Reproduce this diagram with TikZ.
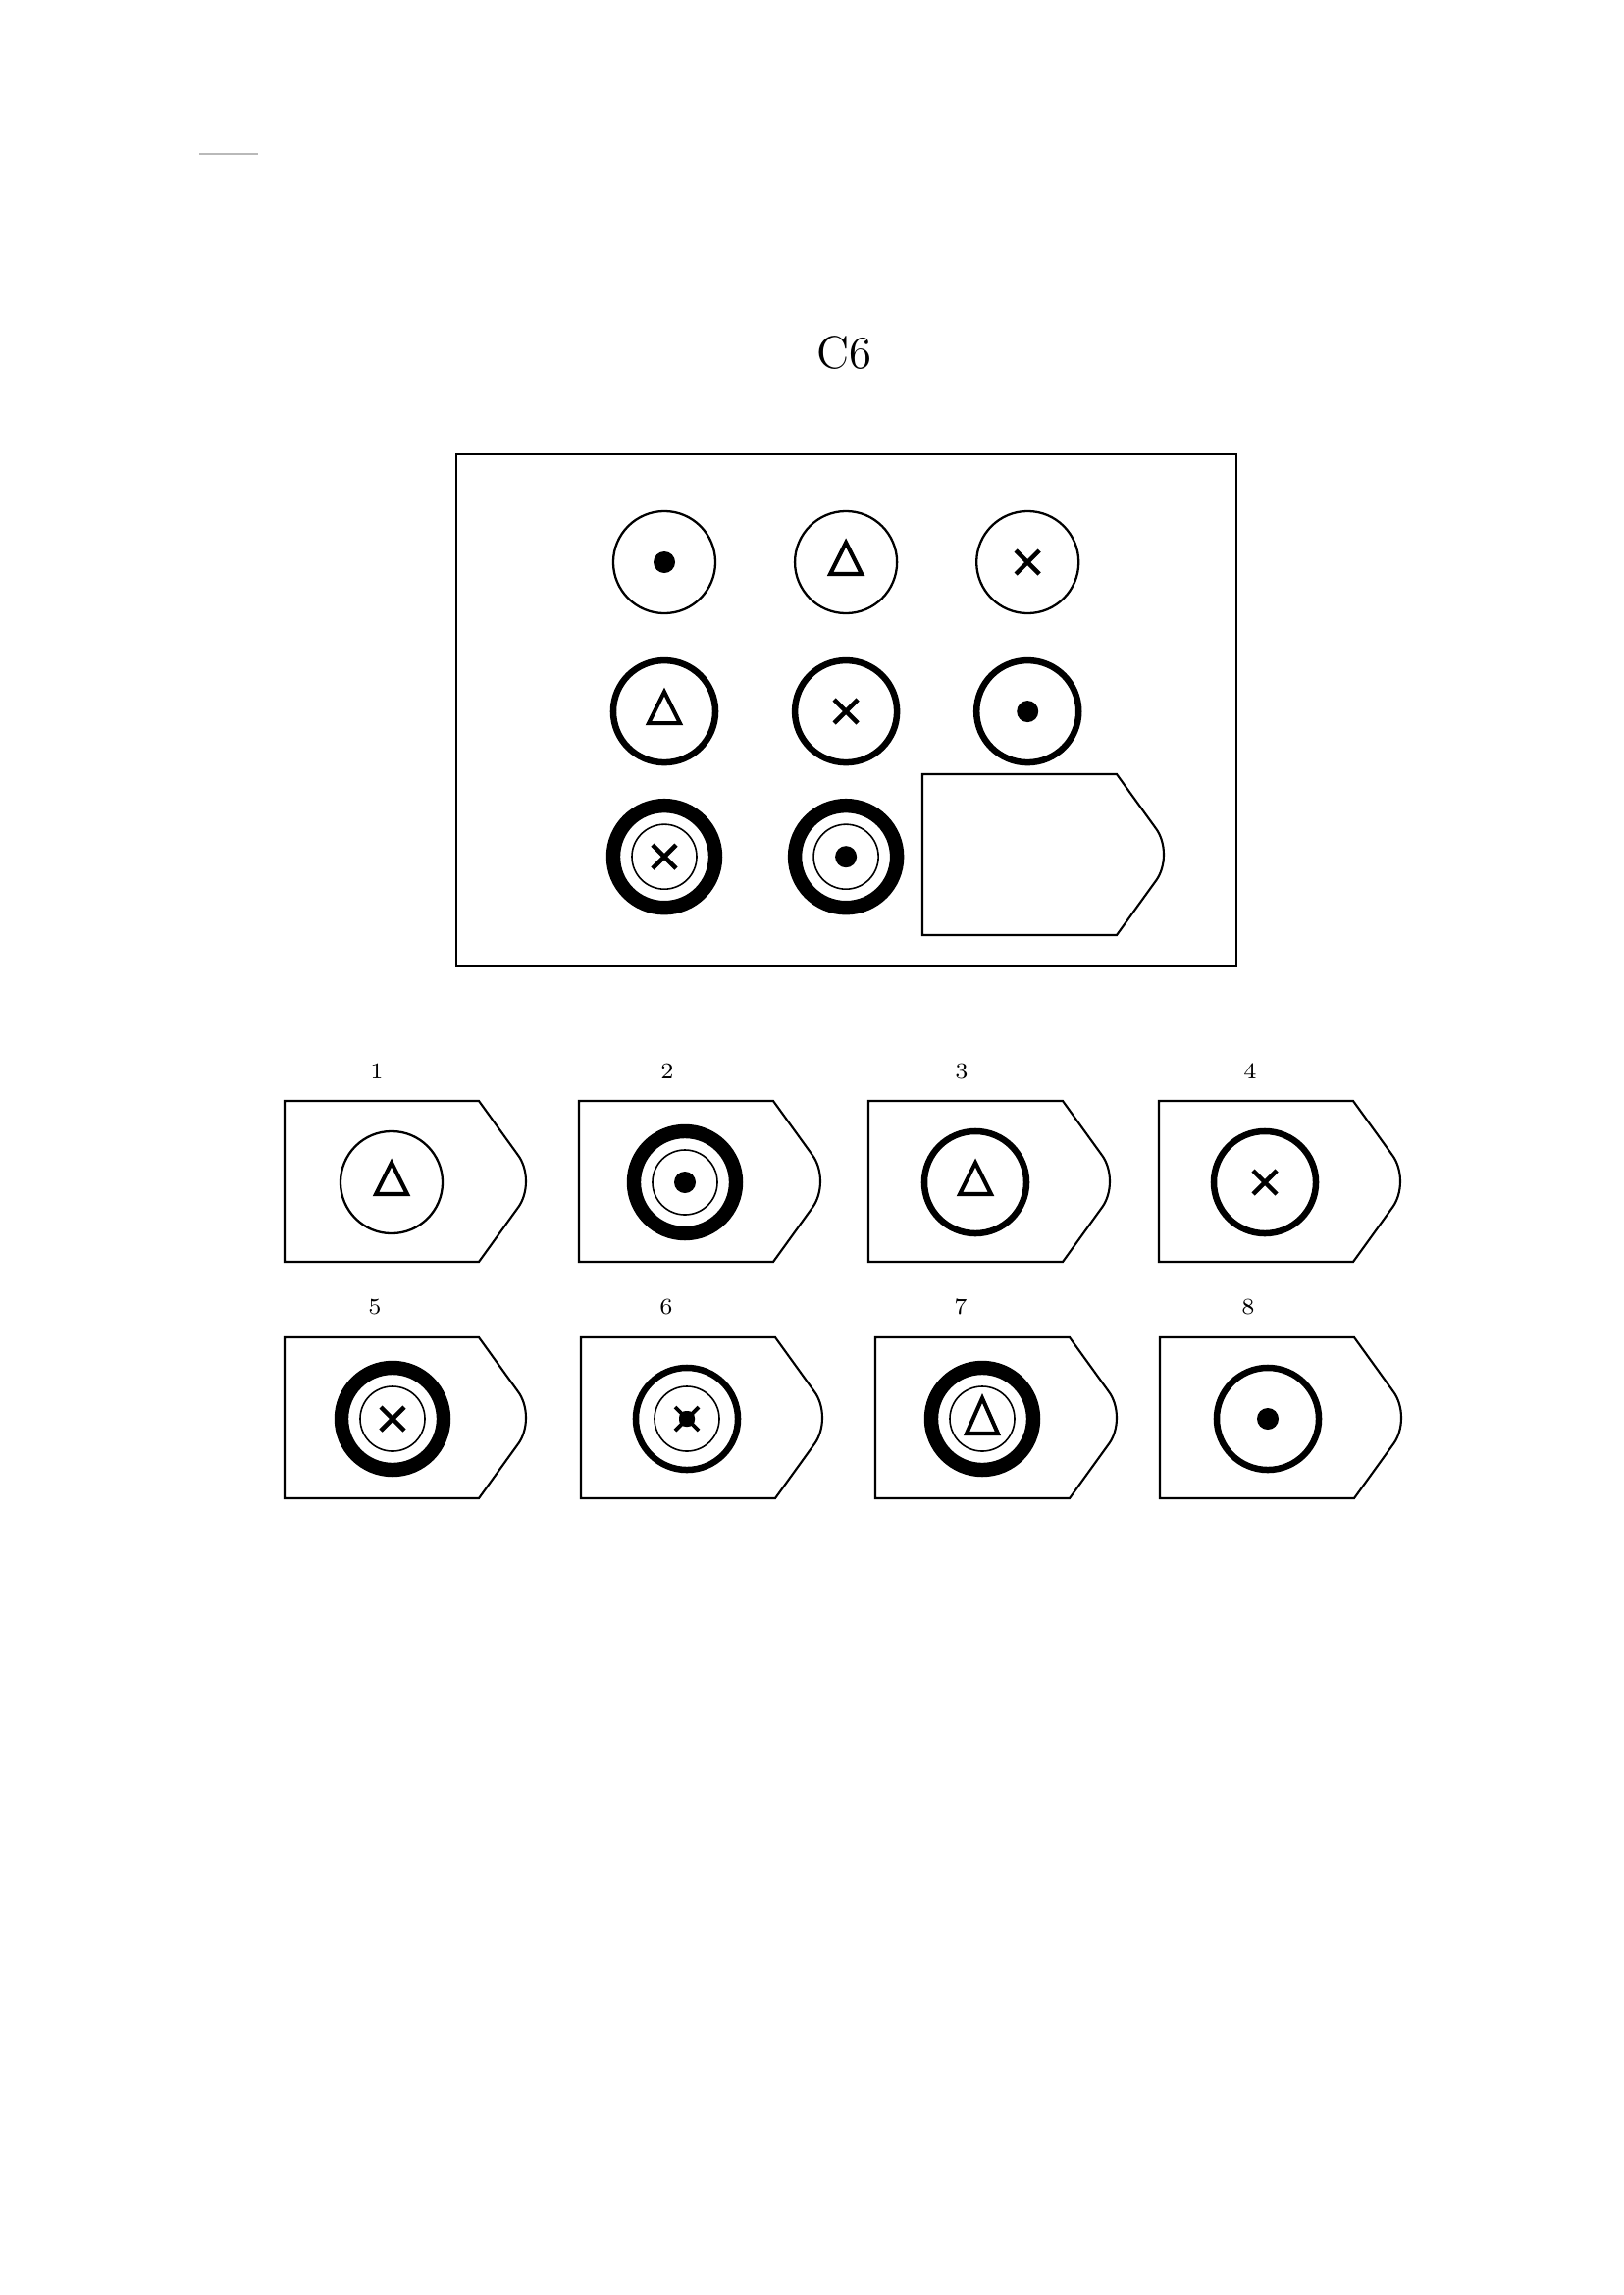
\documentclass[tikz,border=0pt]{standalone}
\begin{document}
\begin{tikzpicture}[x=0.01cm,y=-0.01cm,node distance=1.85cm,
  cell/.style={circle,draw,inner sep=0pt,minimum size=1.04cm},
  ring1/.style={cell,line width=0.65pt},
  ring2/.style={cell,line width=1.85pt},
  ring3/.style={cell,line width=4.1pt},
  core/.style={circle,draw,inner sep=0pt,minimum size=0.66cm,line width=0.45pt},
  num/.style={font=\fontsize{6.6}{8}\selectfont},
  pics/dotmark/.style={code={\fill (0,0) circle[radius=11];}},
  pics/trimark/.style={code={\draw[line width=1.15pt,line join=miter] (0,-20) -- (16,12) -- (-16,12) -- cycle;}},
  pics/bigtri/.style={code={\draw[line width=1.15pt,line join=miter] (0,-21) -- (16,15) -- (-16,15) -- cycle;}},
  pics/crossmark/.style={code={\draw[line width=1.3pt] (-12,-12) -- (12,12) (-12,12) -- (12,-12);}},
  pics/dotcross/.style={code={\fill[rounded corners=2] (-8,-8) rectangle (8,8);
      \draw[line width=1.1pt] (-12,-12) -- (12,12) (-12,12) -- (12,-12);}},
  pics/card/.style={code={\draw[line width=0.6pt] (0,0) -- (198,0) -- (237,54)
      .. controls (249,69) and (249,95) .. (237,110) -- (198,164) -- (0,164) -- cycle;}}]

\useasboundingbox (0,0) rectangle (1654,2339);
\draw[gray!55,line width=0.5pt] (203,157) -- (263,157);

\node[font=\fontsize{13.3}{16}\selectfont] (title) at (860,360) {C6};
\draw[line width=0.6pt] (465,463) rectangle (1260,985);

% the matrix
\node[ring1] (m11) at (677,573)                        {};
\node[ring1] (m12) [right of=m11]                       {};
\node[ring1] (m13) [right of=m12]                       {};
\node[ring2] (m21) [below of=m11,node distance=1.52cm]  {};
\node[ring2] (m22) [right of=m21]                       {};
\node[ring2] (m23) [right of=m22]                       {};
\node[ring3] (m31) [below of=m21,node distance=1.48cm]  {};
\node[ring3] (m32) [right of=m31]                       {};
\node[core]  (m31c) at (m31) {};
\node[core]  (m32c) at (m32) {};
\coordinate  (gap) at (940,789);

\pic at (m11) {dotmark};
\pic at (m12) {trimark};
\pic at (m13) {crossmark};
\pic at (m21) {trimark};
\pic at (m22) {crossmark};
\pic at (m23) {dotmark};
\pic at (m31) {crossmark};
\pic at (m32) {dotmark};
\pic at (gap) {card};

% the answers
\coordinate (c1) at (290,1122);
\coordinate (c2) at (590,1122);
\coordinate (c3) at (885,1122);
\coordinate (c4) at (1181,1122);
\coordinate (c5) at (290,1363);
\coordinate (c6) at (592,1363);
\coordinate (c7) at (892,1363);
\coordinate (c8) at (1182,1363);

\node[num] (n1) at (384,1092)  {1};
\node[num] (n2) at (680,1092)  {2};
\node[num] (n3) at (980,1092)  {3};
\node[num] (n4) at (1274,1092) {4};
\node[num] (n5) at (382,1332)  {5};
\node[num] (n6) at (679,1332)  {6};
\node[num] (n7) at (979,1332)  {7};
\node[num] (n8) at (1272,1332) {8};

\pic at (c1) {card};
\pic at (c2) {card};
\pic at (c3) {card};
\pic at (c4) {card};
\pic at (c5) {card};
\pic at (c6) {card};
\pic at (c7) {card};
\pic at (c8) {card};

\node[ring1] (o1) at ([shift={(109,83)}]c1) {};
\node[ring3] (o2) at ([shift={(108,83)}]c2) {};
\node[ring2] (o3) at ([shift={(109,83)}]c3) {};
\node[ring2] (o4) at ([shift={(108,83)}]c4) {};
\node[ring3] (o5) at ([shift={(110,83)}]c5) {};
\node[ring2] (o6) at ([shift={(108,83)}]c6) {};
\node[ring3] (o7) at ([shift={(109,83)}]c7) {};
\node[ring2] (o8) at ([shift={(110,83)}]c8) {};
\node[core]  (o2c) at (o2) {};
\node[core]  (o5c) at (o5) {};
\node[core]  (o6c) at (o6) {};
\node[core]  (o7c) at (o7) {};

\pic at (o1) {trimark};
\pic at (o2) {dotmark};
\pic at (o3) {trimark};
\pic at (o4) {crossmark};
\pic at (o5) {crossmark};
\pic at (o6) {dotcross};
\pic at (o7) {bigtri};
\pic at (o8) {dotmark};
\end{tikzpicture}
\end{document}
